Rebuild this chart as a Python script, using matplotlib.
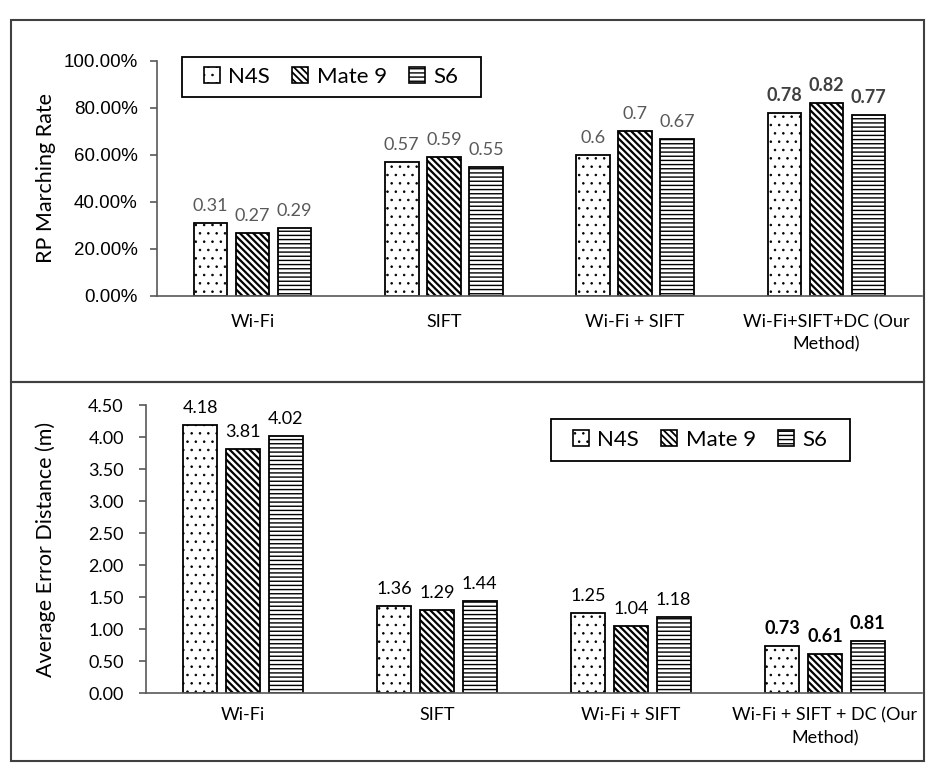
import numpy as np
import matplotlib
matplotlib.use("Agg")
import matplotlib.pyplot as plt
from matplotlib.patches import Rectangle

# data
methods_top = ["Wi-Fi", "SIFT", "Wi-Fi + SIFT", "Wi-Fi+SIFT+DC (Our\nMethod)"]
methods_bottom = ["Wi-Fi", "SIFT", "Wi-Fi + SIFT", "Wi-Fi + SIFT + DC (Our\nMethod)"]
phones = ["N4S", "Mate 9", "S6"]
hatches = ["..", "\\\\\\\\\\", "----"]
hatch_lw = [0.6, 1.6, 1.0]

match_rate = {
    "N4S": [0.31, 0.57, 0.60, 0.78],
    "Mate 9": [0.27, 0.59, 0.70, 0.82],
    "S6": [0.29, 0.55, 0.67, 0.77],
}
match_labels = {
    "N4S": ["0.31", "0.57", "0.6", "0.78"],
    "Mate 9": ["0.27", "0.59", "0.7", "0.82"],
    "S6": ["0.29", "0.55", "0.67", "0.77"],
}
error_dist = {
    "N4S": [4.18, 1.36, 1.25, 0.73],
    "Mate 9": [3.81, 1.29, 1.04, 0.61],
    "S6": [4.02, 1.44, 1.18, 0.81],
}

W, H = 926, 763
plt.rcParams["font.family"] = ["Lato", "DejaVu Sans"]

fig = plt.figure(figsize=(W / 100, H / 100), dpi=100)


def px_axes(left, top, right, bottom):
    return fig.add_axes([left / W, 1 - bottom / H, (right - left) / W, (bottom - top) / H])


def style_axes(ax, xpad, ypad):
    for s in ["top", "right"]:
        ax.spines[s].set_visible(False)
    for s in ["left", "bottom"]:
        ax.spines[s].set_color("#595959")
        ax.spines[s].set_linewidth(1.2)
    ax.tick_params(axis="x", length=0, pad=xpad)
    ax.tick_params(axis="y", direction="out", length=5, color="#595959", width=1.2, pad=ypad)


def draw_bars(ax, data, labels, label_color, bold_color):
    x = np.arange(4)
    width = 0.175
    step = 0.22
    for i, p in enumerate(phones):
        with plt.rc_context({"hatch.linewidth": hatch_lw[i]}):
            b = ax.bar(x + (i - 1) * step, data[p], width, color="white", edgecolor="black",
                       linewidth=1.3, hatch=hatches[i], label=p)
        for rect in b:
            if hasattr(rect, "set_hatch_linewidth"):
                rect.set_hatch_linewidth(hatch_lw[i])
        for j, rect in enumerate(b):
            txt = labels[p][j] if labels else "{:.2f}".format(data[p][j])
            last = j == 3
            ax.annotate(txt, (rect.get_x() + rect.get_width() / 2, rect.get_height()),
                        xytext=(0, 6.5), textcoords="offset points", ha="center", va="bottom",
                        fontsize=13, color=bold_color if last else label_color,
                        fontweight="bold" if last else "normal")
    ax.set_xlim(-0.5, 3.5)


def add_legend(ax, left, top, bottom):
    # entries without frame, box drawn separately (wider side padding than matplotlib allows)
    mid = (top + bottom) / 2
    leg = ax.legend(ncol=3, loc="center left", bbox_to_anchor=((left + 22) / W, 1 - mid / H),
                    bbox_transform=fig.transFigure, borderaxespad=0, borderpad=0,
                    fontsize=16, frameon=False, handlelength=0.7, handleheight=0.7,
                    handletextpad=0.4, columnspacing=1.0)
    for h, lw in zip(leg.legend_handles, hatch_lw):
        if hasattr(h, "set_hatch_linewidth"):
            h.set_hatch_linewidth(min(lw, 1.3))
        h.set_linewidth(1.2)
    fig.canvas.draw()
    bb = leg.get_window_extent()
    right = bb.x1 + 22
    fig.add_artist(Rectangle((left / W, 1 - bottom / H), (right - left) / W, (bottom - top) / H,
                             transform=fig.transFigure, fill=False, edgecolor="black",
                             linewidth=1.3))


# top panel: matching rate
ax1 = px_axes(157, 61, 922, 296)
style_axes(ax1, 13, 9)
draw_bars(ax1, match_rate, match_labels, "#595959", "#404040")
ax1.set_ylim(0, 1.0)
ticks1 = np.arange(0, 1.01, 0.2)
ax1.set_yticks(ticks1)
ax1.set_yticklabels(["{:.2f}%".format(v * 100) for v in ticks1],
                    fontfamily="Liberation Sans", fontsize=13.5)
ax1.set_xticks(range(4))
ax1.set_xticklabels(methods_top, fontsize=13, linespacing=1.5)
ax1.set_ylabel("RP Marching Rate", fontsize=15.5)
ax1.yaxis.set_label_coords((56 - 157) / (922 - 157), 0.5)
add_legend(ax1, 182, 57, 97)

# bottom panel: average error distance
ax2 = px_axes(146, 405, 922, 693)
style_axes(ax2, 10, 11)
draw_bars(ax2, error_dist, None, "black", "black")
ax2.set_ylim(0, 4.5)
ticks2 = np.arange(0, 4.51, 0.5)
ax2.set_yticks(ticks2)
ax2.set_yticklabels(["{:.2f}".format(v) for v in ticks2], fontsize=13)
ax2.set_xticks(range(4))
ax2.set_xticklabels(methods_bottom, fontsize=13, linespacing=1.55)
ax2.set_ylabel("Average Error Distance (m)", fontsize=15.5)
ax2.yaxis.set_label_coords((56 - 146) / (922 - 146), 0.5)
add_legend(ax2, 551, 419, 461)

# panel borders
for top, bottom in [(20, 382), (382, 761)]:
    fig.add_artist(Rectangle((11 / W, 1 - bottom / H), (924 - 11) / W, (bottom - top) / H,
                             transform=fig.transFigure, fill=False, edgecolor="#404040",
                             linewidth=1.5))

fig.savefig("out.png", dpi=100)
